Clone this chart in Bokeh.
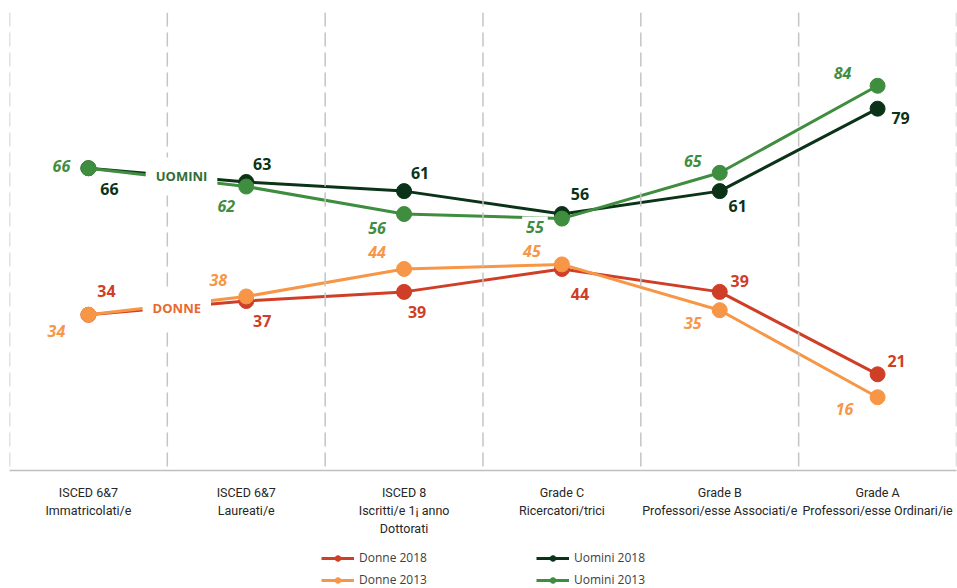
from bokeh.plotting import figure
from bokeh.layouts import column
from bokeh.models import (Range1d, FixedTicker, Span, Label, Legend, LegendItem, ColumnDataSource)
from bokeh.core.properties import value
from bokeh.embed import file_html
from bokeh.resources import INLINE

categories = ["ISCED 6&7\nImmatricolati/e", "ISCED 6&7\nLaureati/e", "ISCED 8\nIscritti/e 1¡ anno\nDottorati",
              "Grade C\nRicercatori/trici", "Grade B\nProfessori/esse Associati/e", "Grade A\nProfessori/esse Ordinari/ie"]
donne_2018 = [34, 37, 39, 44, 39, 21]
donne_2013 = [34, 38, 44, 45, 35, 16]
uomini_2018 = [66, 63, 61, 56, 61, 79]
uomini_2013 = [66, 62, 56, 55, 65, 84]

# label placement (screen px, +y down)
off_d18 = [(18, -24), (16, 20), (13, 20), (18, 25), (20, -11), (19, -13)]
off_d13 = [(-32, 16), (-28, -16), (-27, -17), (-30, -13), (-27, 13), (-33, 12)]
off_u18 = [(21, 21), (16, -18), (16, -18), (18, -20), (18, 15), (23, 9)]
off_u13 = [(-27, -2), (-20, 19), (-27, 14), (None, None), (-27, -12), (-35, -13)]

C_D18 = "#CF3E26"
C_D13 = "#F79646"
C_U18 = "#0A3318"
C_U13 = "#3F8D3F"

xs = [i + 0.5 for i in range(len(categories))]

p = figure(width=957, height=547, x_range=Range1d(0, 6), y_range=Range1d(0, 100),
           output_backend="svg", toolbar_location=None,
           min_border_left=9, min_border_right=1, min_border_top=12, min_border_bottom=77)
p.outline_line_color = None
p.xgrid.visible = False
p.ygrid.visible = False
p.yaxis.visible = False

for b in range(0, 7):
    p.add_layout(Span(location=b, dimension="height", line_color="#c4c4c4",
                      line_width=1.5, line_dash="14 6"))

ax = p.xaxis[0]
ax.ticker = FixedTicker(ticks=xs)
ax.major_label_overrides = {x: c for x, c in zip(xs, categories)}
ax.axis_line_color = "#bfbfbf"
ax.axis_line_width = 1.5
ax.major_tick_line_color = None
ax.minor_tick_line_color = None
ax.major_label_standoff = 8
ax.major_label_text_font = "Roboto"
ax.major_label_text_font_size = "12.5px"
ax.major_label_text_color = "#262626"
ax.major_label_text_line_height = 1.2

series = [("Donne 2018", donne_2018, C_D18, off_d18, "bold"),
          ("Uomini 2018", uomini_2018, C_U18, off_u18, "bold"),
          ("Donne 2013", donne_2013, C_D13, off_d13, "bold italic"),
          ("Uomini 2013", uomini_2013, C_U13, off_u13, "bold italic")]
for name, vals, col, offs, style in series:
    src = ColumnDataSource(dict(x=xs, y=vals))
    p.line("x", "y", source=src, line_color=col, line_width=3)
    p.scatter("x", "y", source=src, size=15, fill_color=col, line_color=col)
    for i, v in enumerate(vals):
        dx, dy = offs[i]
        if dx is None:
            continue
        p.text(x=[xs[i]], y=[v], text=[str(v)], x_offset=dx, y_offset=dy,
               text_align="center", text_baseline="middle",
               text_font=value("Open Sans"), text_font_style=style,
               text_font_size="16px", text_color=col)

# special label with white box
p.add_layout(Label(x=xs[3], y=uomini_2013[3], text=str(uomini_2013[3]), x_offset=-27, y_offset=-8,
                   text_align="center", text_baseline="middle", text_font="Open Sans",
                   text_font_style="bold italic", text_font_size="16px", text_color=C_U13,
                   background_fill_color="white", padding=4))

p.add_layout(Label(x=1.09, y=64.2, text="UOMINI", text_align="center", text_baseline="middle",
                   text_font="Open Sans", text_font_style="bold", text_font_size="13px",
                   text_color="#2F6E35", background_fill_color="white", padding=10))
p.add_layout(Label(x=1.06, y=35.5, text="DONNE", text_align="center", text_baseline="middle",
                   text_font="Open Sans", text_font_style="bold", text_font_size="13px",
                   text_color="#E8692F", background_fill_color="white", padding=10))

# legend strip (series drawn outside its visible range, only the legend shows)
lg = figure(width=957, height=41, x_range=Range1d(0, 6), y_range=Range1d(200, 300),
            output_backend="svg", toolbar_location=None,
            min_border_left=0, min_border_right=0, min_border_top=0, min_border_bottom=0)
lg.axis.visible = False
lg.grid.visible = False
lg.outline_line_color = None
renders = {}
for name, vals, col, offs, style in series:
    src = ColumnDataSource(dict(x=xs, y=vals))
    ln = lg.line("x", "y", source=src, line_color=col, line_width=3)
    sc = lg.scatter("x", "y", source=src, size=8, fill_color=col, line_color=col)
    renders[name] = [ln, sc]

legend = Legend(items=[LegendItem(label=n, renderers=renders[n]) for n in
                       ["Donne 2018", "Donne 2013", "Uomini 2018", "Uomini 2013"]],
                ncols=2)
legend.border_line_color = None
legend.background_fill_alpha = 0
legend.label_text_font = "Open Sans"
legend.label_text_font_size = "12px"
legend.label_text_color = "#404040"
legend.glyph_width = 33
legend.glyph_height = 14
legend.label_width = 172
legend.label_standoff = 5
legend.spacing = 5
legend.padding = 0
legend.margin = 0
legend.location = (312, 0)
lg.add_layout(legend)

open("out.html", "w").write(file_html(column(p, lg, spacing=0), INLINE))
